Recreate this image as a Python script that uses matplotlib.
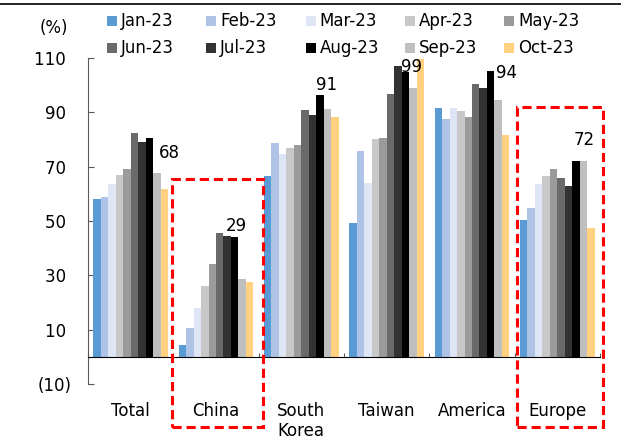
import matplotlib
matplotlib.use("Agg")
import matplotlib.pyplot as plt
import numpy as np
from matplotlib.lines import Line2D
from matplotlib.patches import Rectangle

# data
regions = ["Total", "China", "South\nKorea", "Taiwan", "America", "Europe"]
months = ["Jan-23", "Feb-23", "Mar-23", "Apr-23", "May-23",
          "Jun-23", "Jul-23", "Aug-23", "Sep-23", "Oct-23"]
colors = ["#5B9BD5", "#AEC3E6", "#DEE6F6", "#C8C8C8", "#9B9B9B",
          "#6A6A6A", "#333333", "#000000", "#BFBFBF", "#FFD180"]

# one list per region, Jan..Oct
total = [58.1, 58.8, 63.7, 67.1, 69.1, 82.4, 78.9, 80.7, 67.6, 61.6]
china = [4.2, 10.7, 17.8, 26.2, 34.3, 45.7, 44.4, 44.1, 28.6, 27.4]
south_korea = [66.7, 78.8, 74.8, 77.0, 78.0, 90.7, 89.1, 96.5, 91.3, 88.4]
taiwan = [49.2, 75.6, 64.0, 80.2, 80.4, 96.9, 107.2, 105.0, 99.1, 109.6]
america = [91.6, 87.7, 91.7, 90.4, 88.4, 100.6, 99.1, 105.3, 94.4, 81.8]
europe = [50.5, 54.8, 63.8, 66.7, 69.2, 65.8, 63.0, 72.2, 72.1, 47.3]

values = np.array([total, china, south_korea, taiwan, america, europe])

# Sep-23 labels, with hand-placed offsets (x from group centre, y in %)
label_month = 8
label_dx = [0.45, 0.24, 0.29, 0.29, 0.41, 0.31]
label_y = [75.1, 48.3, 100.2, 106.8, 104.6, 79.9]

yticks = [-10, 10, 30, 50, 70, 90, 110]

W, H = 621, 443
plt.rcParams["font.family"] = "DejaVu Sans"
fs = 12

fig = plt.figure(figsize=(W / 100, H / 100), dpi=100)
ax = fig.add_axes([88 / W, (H - 384) / H, (600 - 88) / W, (384 - 58) / H])

n = len(months)
bw = 0.875 / n
x = np.arange(len(regions))
for i, m in enumerate(months):
    ax.bar(x - 0.4375 + bw * (i + 0.5), values[:, i], width=bw,
           color=colors[i], linewidth=0, zorder=2)

for g in range(len(regions)):
    ax.text(g + label_dx[g], label_y[g], f"{values[g, label_month]:.0f}",
            ha="center", va="center", fontsize=fs, zorder=4)

ax.set_xlim(-0.5, len(regions) - 0.5)
ax.set_ylim(-10, 110)

ax.spines["top"].set_visible(False)
ax.spines["right"].set_visible(False)
ax.spines["left"].set_color("#595959")
ax.spines["bottom"].set_position(("data", 0))
ax.spines["bottom"].set_color("black")
ax.spines["bottom"].set_zorder(3)

ax.set_yticks(yticks)
ax.set_yticklabels([f"({-v})" if v < 0 else f"{v} " for v in yticks],
                   fontsize=fs)
ax.tick_params(axis="y", direction="in", length=4, color="#595959", pad=12)

ax.set_xticks(np.arange(-0.5, len(regions), 1.0))
ax.set_xticks(x, minor=True)
ax.tick_params(axis="x", which="both", direction="in", length=3,
               color="#595959", labelbottom=False)

for g, r in enumerate(regions):
    ax.text(g, -0.055, r, transform=ax.get_xaxis_transform(), ha="center",
            va="top", fontsize=fs, linespacing=1.15)

fig.text(54 / W, 1 - 28 / H, "(%)", ha="center", va="center", fontsize=fs)

# red dashed highlight boxes (China, Europe)
for x0, x1, top in [(0.481, 1.547, 65.4), (4.531, 5.532, 91.8)]:
    ax.add_patch(Rectangle((x0, -25.7), x1 - x0, top + 25.7, fill=False,
                           edgecolor="#FF0000", linewidth=2.2,
                           linestyle=(0, (3, 1.6)), clip_on=False, zorder=5))

# legend, two rows of five
for i, m in enumerate(months):
    px = 107 + 99.3 * (i % 5)
    py = 21 if i < 5 else 48
    fig.patches.append(Rectangle((px / W, 1 - (py + 5) / H), 10 / W, 10 / H,
                                 transform=fig.transFigure, color=colors[i],
                                 linewidth=0))
    fig.text((px + 14) / W, 1 - py / H, m, ha="left", va="center", fontsize=fs)

# header rule at the top
fig.add_artist(Line2D([0, 1], [1 - 4 / H, 1 - 4 / H], color="black",
                      linewidth=1.2, transform=fig.transFigure))

fig.savefig("out.png", dpi=100)
